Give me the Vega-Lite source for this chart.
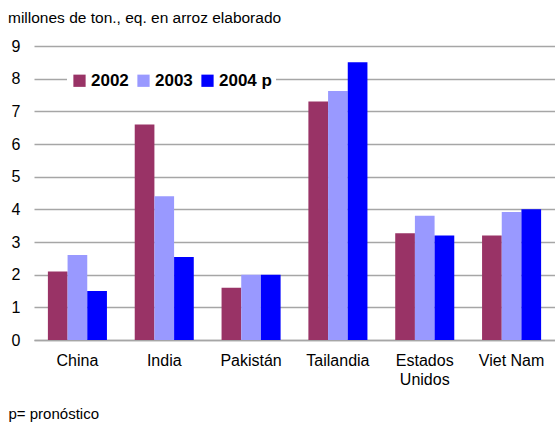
{
  "$schema": "https://vega.github.io/schema/vega-lite/v6.json",
  "autosize": {"type": "none"},
  "padding": {"left": 34, "top": 46, "right": 0, "bottom": 85},
  "width": 521,
  "height": 294,
  "background": "white",
  "config": {
    "font": "Liberation Sans",
    "view": {"stroke": null}
  },
  "title": {
    "text": "millones de ton., eq. en arroz elaborado",
    "anchor": "start",
    "frame": "group",
    "dx": -26,
    "offset": 12,
    "fontSize": 15.5,
    "fontWeight": "normal",
    "color": "#000000",
    "font": "Liberation Sans"
  },
  "data": {
    "values": [
      {"country": "China", "year": "2002", "value": 2.1},
      {"country": "China", "year": "2003", "value": 2.6},
      {"country": "China", "year": "2004 p", "value": 1.5},
      {"country": "India", "year": "2002", "value": 6.6},
      {"country": "India", "year": "2003", "value": 4.4},
      {"country": "India", "year": "2004 p", "value": 2.54},
      {"country": "Pakistán", "year": "2002", "value": 1.6},
      {"country": "Pakistán", "year": "2003", "value": 2.0},
      {"country": "Pakistán", "year": "2004 p", "value": 2.0},
      {"country": "Tailandia", "year": "2002", "value": 7.3},
      {"country": "Tailandia", "year": "2003", "value": 7.62},
      {"country": "Tailandia", "year": "2004 p", "value": 8.5},
      {"country": "Estados Unidos", "year": "2002", "value": 3.27},
      {"country": "Estados Unidos", "year": "2003", "value": 3.8},
      {"country": "Estados Unidos", "year": "2004 p", "value": 3.2},
      {"country": "Viet Nam", "year": "2002", "value": 3.2},
      {"country": "Viet Nam", "year": "2003", "value": 3.92},
      {"country": "Viet Nam", "year": "2004 p", "value": 4.0}
    ]
  },
  "mark": {"type": "bar"},
  "encoding": {
    "x": {
      "field": "country",
      "type": "nominal",
      "sort": ["China", "India", "Pakistán", "Tailandia", "Estados Unidos", "Viet Nam"],
      "scale": {"paddingInner": 0.32, "paddingOuter": 0.16},
      "axis": {
        "title": "p= pronóstico",
        "titleX": -26,
        "titleY": 73,
        "titleAlign": "left",
        "titleAnchor": "start",
        "titleBaseline": "middle",
        "titleFontSize": 15,
        "titleFontWeight": "normal",
        "titleColor": "#000000",
        "labelAngle": 0,
        "labelFontSize": 16,
        "labelColor": "#000000",
        "labelPadding": 12,
        "labelLineHeight": 19,
        "labelExpr": "datum.value == 'Estados Unidos' ? ['Estados', 'Unidos'] : datum.value",
        "ticks": false,
        "domainColor": "#a6a6a6",
        "domainWidth": 1.5,
        "grid": false
      }
    },
    "xOffset": {
      "field": "year",
      "type": "nominal",
      "scale": {"paddingInner": 0, "paddingOuter": 0}
    },
    "y": {
      "field": "value",
      "type": "quantitative",
      "scale": {"domain": [0, 9], "nice": false},
      "axis": {
        "title": null,
        "values": [0, 1, 2, 3, 4, 5, 6, 7, 8, 9],
        "labelFontSize": 16,
        "labelColor": "#000000",
        "labelPadding": 14,
        "ticks": false,
        "domain": false,
        "gridColor": "#a6a6a6",
        "gridWidth": 1.5
      }
    },
    "color": {
      "field": "year",
      "type": "nominal",
      "scale": {"domain": ["2002", "2003", "2004 p"], "range": ["#993366", "#9999ff", "#0000ff"]},
      "legend": {
        "title": null,
        "orient": "none",
        "legendX": 33,
        "legendY": 22,
        "direction": "horizontal",
        "fillColor": "white",
        "padding": 4,
        "symbolType": "square",
        "symbolSize": 150,
        "symbolStrokeWidth": 0,
        "labelFontSize": 17,
        "labelFontWeight": "bold",
        "labelColor": "#000000",
        "columnPadding": 6,
        "labelOffset": 3
      }
    }
  }
}
